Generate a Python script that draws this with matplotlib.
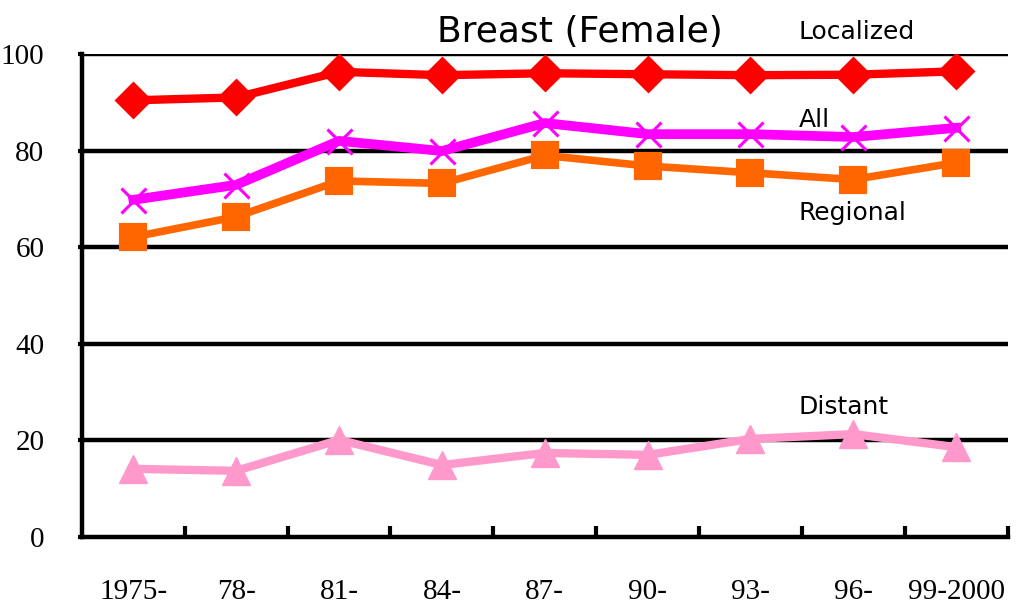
import numpy as np
import matplotlib
matplotlib.use("Agg")
import matplotlib.pyplot as plt

# five-year relative survival, breast (female), by stage
periods = ['1975-', '78-', '81-', '84-', '87-', '90-', '93-', '96-', '99-2000']
localized = [90.4, 91.0, 96.3, 95.6, 96.0, 95.8, 95.6, 95.7, 96.4]
all_stages = [69.8, 72.9, 82.0, 79.9, 85.7, 83.4, 83.4, 82.8, 84.7]
regional = [62.1, 66.3, 73.7, 73.2, 79.0, 76.8, 75.4, 74.0, 77.5]
distant = [14.1, 13.7, 20.1, 14.9, 17.4, 17.0, 20.3, 21.3, 18.6]

fig = plt.figure(figsize=(10.24, 6.13), dpi=100)
ax = fig.add_axes([0.080, 0.124, 0.904, 0.788])
x = np.arange(len(periods))

ax.plot(x, distant, color='#ff99cc', lw=6, marker='^', ms=20,
        solid_joinstyle='round', zorder=3)
ax.plot(x, regional, color='#ff6600', lw=5.5, marker='s', ms=17,
        mew=3, solid_joinstyle='round', zorder=3)
ax.plot(x, all_stages, color='#ff00ff', lw=7, marker='x', ms=18,
        mew=2.2, zorder=3)
ax.plot(x, localized, color='#ff0000', lw=6, marker='D', ms=17,
        mew=2, solid_joinstyle='round', zorder=4)

ax.set_xlim(-0.5, len(periods) - 0.5)
ax.set_ylim(0, 100)

# horizontal rules
for v in range(20, 101, 20):
    ax.axhline(v, color='black', lw=3.2, zorder=1)

for s in ['top', 'right']:
    ax.spines[s].set_visible(False)
for s in ['left', 'bottom']:
    ax.spines[s].set_linewidth(3.2)

ax.set_yticks(range(0, 101, 20))
ax.tick_params(axis='y', direction='out', length=3, width=3, pad=24,
               labelsize=21)
ax.set_xticks(x)
ax.set_xticklabels(periods)
ax.tick_params(axis='x', which='major', length=0, pad=30, labelsize=21)
ax.set_xticks(np.arange(0.5, len(periods), 1), minor=True)
ax.tick_params(axis='x', which='minor', direction='in', length=8, width=3)
for lab in ax.get_xticklabels() + ax.get_yticklabels():
    lab.set_family('Liberation Serif')

ax.text(0.538, 1.045, 'Breast (Female)', transform=ax.transAxes,
        ha='center', va='center', fontsize=26)
lx = 6.47
ax.text(lx, 104.5, 'Localized', fontsize=18, va='center')
ax.text(lx, 86.3, 'All', fontsize=18, va='center')
ax.text(lx, 67.0, 'Regional', fontsize=18, va='center')
ax.text(lx, 27.0, 'Distant', fontsize=18, va='center')

fig.savefig('out.png', dpi=100)
